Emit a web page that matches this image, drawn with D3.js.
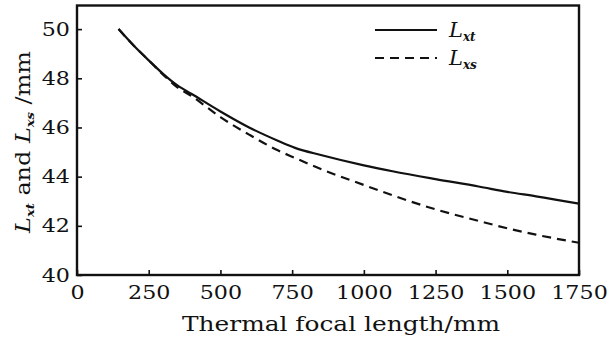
<!DOCTYPE html>
<html>
<head>
<meta charset="utf-8">
<script src="https://cdn.jsdelivr.net/npm/d3@7"></script>
<style>
  body { margin: 0; background: #fff; }
  svg { display: block; }
</style>
</head>
<body>
<div class="chart"></div>
<script>
// focal length samples (mm)
let focal = [145, 200, 250, 300, 350, 400, 500, 600, 700, 760, 850, 1000, 1100, 1250, 1400, 1500, 1600, 1750];
// L_xt (solid) and L_xs (dashed), mm
let lxt = [50.0, 49.3, 48.73, 48.18, 47.71, 47.36, 46.65, 46.0, 45.46, 45.17, 44.88, 44.46, 44.22, 43.9, 43.6, 43.38, 43.2, 42.9];
let lxs = [50.0, 49.3, 48.73, 48.15, 47.63, 47.27, 46.42, 45.71, 45.07, 44.76, 44.31, 43.66, 43.24, 42.67, 42.2, 41.9, 41.64, 41.31];
let xTicks = [0, 250, 500, 750, 1000, 1250, 1500, 1750];
let yTicks = [40, 42, 44, 46, 48, 50];

let margin = { top: 5.5, right: 34, bottom: 70, left: 77 };
let width = 613 - margin.left - margin.right;
let height = 345 - margin.top - margin.bottom;

let serif = "'DejaVu Serif', 'Liberation Serif', serif";
let ink = "#111";

let svg = d3.select(".chart")
    .append("svg")
    .attr("width", 613)
    .attr("height", 345)
    .style("background-color", "white");

let g = svg.append("g")
    .attr("transform", "translate(" + margin.left + "," + margin.top + ")");

let x = d3.scaleLinear().domain([0, 1750]).range([0, width]);
let y = d3.scaleLinear().domain([40, 50.96]).range([height, 0]);

// x axis, ticks point inward
let xAxis = g.append("g")
    .attr("transform", "translate(0," + height + ")")
    .call(d3.axisBottom(x).tickValues(xTicks).tickSize(-5).tickPadding(11).tickFormat(d3.format("d")));

xAxis.select(".domain").remove();
xAxis.selectAll("line").attr("stroke", ink).attr("stroke-width", 1.6);
xAxis.selectAll("text")
    .style("font-family", serif)
    .style("font-size", "19px")
    .attr("fill", ink)
    .attr("transform", "scale(1.17,1)");

let yAxis = g.append("g")
    .call(d3.axisLeft(y).tickValues(yTicks).tickSize(-5).tickPadding(6).tickFormat(d3.format("d")));

yAxis.select(".domain").remove();
yAxis.selectAll("line").attr("stroke", ink).attr("stroke-width", 1.6);
yAxis.selectAll("text")
    .style("font-family", serif)
    .style("font-size", "19px")
    .attr("fill", ink)
    .attr("transform", "scale(1.17,1)");

// frame
g.append("rect")
    .attr("x", 0)
    .attr("y", 0)
    .attr("width", width)
    .attr("height", height)
    .attr("fill", "none")
    .attr("stroke", ink)
    .attr("stroke-width", 2.4);

let line = d3.line()
    .x(function (d) { return x(d[0]); })
    .y(function (d) { return y(d[1]); })
    .curve(d3.curveMonotoneX);

g.append("path")
    .datum(focal.map(function (f, i) { return [f, lxs[i]]; }))
    .attr("d", line)
    .attr("fill", "none")
    .attr("stroke", ink)
    .attr("stroke-width", 2.2)
    .attr("stroke-dasharray", "9,6");

g.append("path")
    .datum(focal.map(function (f, i) { return [f, lxt[i]]; }))
    .attr("d", line)
    .attr("fill", "none")
    .attr("stroke", ink)
    .attr("stroke-width", 2.2);

// legend
let legendItems = [
    { sub: "xt", dash: null, y: 30 },
    { sub: "xs", dash: "9,6", y: 58 }
];

let legend = svg.append("g")
    .selectAll("g")
    .data(legendItems)
    .enter()
    .append("g")
    .attr("transform", function (d) { return "translate(0," + d.y + ")"; });

legend.append("line")
    .attr("x1", 375)
    .attr("x2", 437)
    .attr("y1", 0)
    .attr("y2", 0)
    .attr("stroke", ink)
    .attr("stroke-width", 2.2)
    .attr("stroke-dasharray", function (d) { return d.dash; });

let legendText = legend.append("text")
    .attr("x", 449)
    .attr("y", 7)
    .style("font-family", serif)
    .style("font-size", "21px")
    .style("font-style", "italic")
    .attr("fill", ink);

legendText.append("tspan").text("L");
legendText.append("tspan")
    .attr("dy", 4)
    .style("font-size", "12px")
    .style("font-weight", "bold")
    .text(function (d) { return d.sub; });

// axis titles
svg.append("text")
    .attr("x", 341)
    .attr("y", 331)
    .attr("text-anchor", "middle")
    .attr("textLength", 318)
    .attr("lengthAdjust", "spacingAndGlyphs")
    .style("font-family", serif)
    .style("font-size", "20px")
    .attr("fill", ink)
    .text("Thermal focal length/mm");

let yTitle = svg.append("text")
    .attr("transform", "translate(30,142) rotate(-90)")
    .attr("text-anchor", "middle")
    .attr("textLength", 182)
    .attr("lengthAdjust", "spacingAndGlyphs")
    .style("font-family", serif)
    .style("font-size", "20px")
    .attr("fill", ink);

yTitle.append("tspan").style("font-style", "italic").text("L");
yTitle.append("tspan").attr("dy", 4).style("font-size", "11px").style("font-style", "italic").style("font-weight", "bold").text("xt");
yTitle.append("tspan").attr("dy", -4).text(" and ");
yTitle.append("tspan").style("font-style", "italic").text("L");
yTitle.append("tspan").attr("dy", 4).style("font-size", "11px").style("font-style", "italic").style("font-weight", "bold").text("xs");
yTitle.append("tspan").attr("dy", -4).text(" /mm");
</script>
</body>
</html>
